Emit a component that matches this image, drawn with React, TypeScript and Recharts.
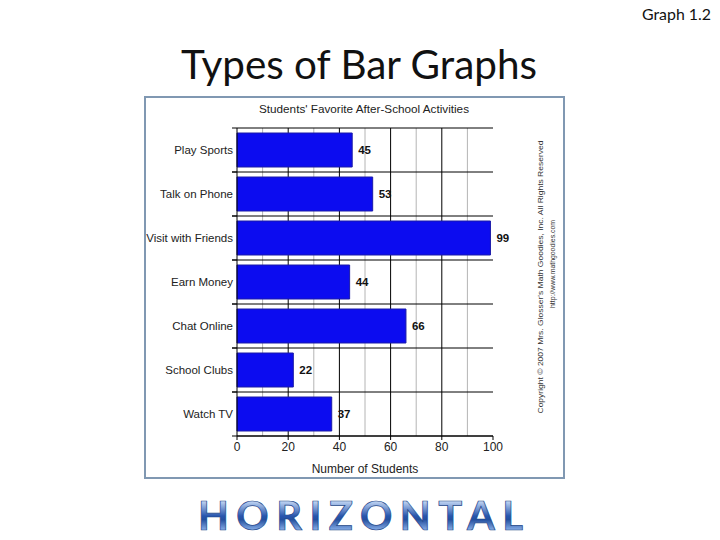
import React from "react";
import { BarChart, Bar, XAxis, YAxis, CartesianGrid, LabelList } from "recharts";

const categories = [
  "Play Sports",
  "Talk on Phone",
  "Visit with Friends",
  "Earn Money",
  "Chat Online",
  "School Clubs",
  "Watch TV",
];
const students = [45, 53, 99, 44, 66, 22, 37];
const xDomain = [0, 100];
const xTicks = [0, 20, 40, 60, 80, 100];
const majorGrid = [20, 40, 60, 80];
const minorGrid = [10, 30, 50, 70, 90];

const data = categories.map((c, i) => ({ activity: c, students: students[i] }));

const ARIAL = "'Liberation Sans', Arial, sans-serif";
const CAL = "Lato, 'Open Sans', sans-serif";

const xCoords = (vals: number[]) => (p: any) => {
  const s = p && p.xAxis && p.xAxis.scale;
  if (typeof s === "function") return vals.map((v) => s(v));
  const o = p.offset;
  return vals.map((v) => o.left + ((v - xDomain[0]) / (xDomain[1] - xDomain[0])) * o.width);
};

const bandEdges = (p: any) => {
  const s = p && p.yAxis && p.yAxis.scale;
  if (typeof s === "function" && typeof s.bandwidth === "function") {
    const pts = categories.map((c) => s(c));
    pts.push(pts[pts.length - 1] + s.bandwidth());
    return pts;
  }
  const o = p.offset;
  const n = categories.length;
  return [...categories.map((_, i) => o.top + (i * o.height) / n), o.top + o.height];
};

const CatTick = (props: any) => {
  const { x, y, payload } = props;
  const half = payload && payload.offset ? payload.offset : 22;
  return (
    <g>
      <line x1={x - 1} x2={x + 4} y1={y - half} y2={y - half} stroke="#000" />
      <line x1={x - 1} x2={x + 4} y1={y + half} y2={y + half} stroke="#000" />
      <text
        x={x}
        y={y}
        textAnchor="end"
        dominantBaseline="central"
        fill="#222"
        fontSize={11.5}
        fontFamily={ARIAL}
      >
        {payload.value}
      </text>
    </g>
  );
};

export default function App() {
  return (
    <div style={{ position: "absolute", left: 0, top: 0, width: 720, height: 540, background: "#fff" }}>
      <div
        style={{
          position: "absolute",
          left: 144,
          top: 96,
          width: 421,
          height: 383,
          border: "2px solid #8098b2",
          boxSizing: "border-box",
          background: "#fff",
        }}
      >
        <BarChart
          layout="vertical"
          width={417}
          height={379}
          data={data}
          margin={{ top: 30, right: 70, bottom: 0, left: 0 }}
        >
          <XAxis
            xAxisId="main"
            type="number"
            domain={xDomain}
            ticks={xTicks}
            height={41}
            tickSize={4}
            stroke="#000"
            tick={{ fill: "#222", fontSize: 12, fontFamily: ARIAL }}
            label={{
              value: "Number of Students",
              position: "insideBottom",
              offset: 4,
              fill: "#222",
              fontSize: 12,
              fontFamily: ARIAL,
            }}
          />
          <YAxis
            yAxisId="cat"
            type="category"
            dataKey="activity"
            width={91}
            tickLine={false}
            tickSize={0}
            tickMargin={4}
            stroke="#000"
            tick={<CatTick />}
          />
          <CartesianGrid
            xAxisId="main"
            yAxisId="cat"
            horizontal={false}
            stroke="#b4b4b4"
            verticalCoordinatesGenerator={xCoords(minorGrid)}
          />
          <CartesianGrid
            xAxisId="main"
            yAxisId="cat"
            stroke="#000"
            verticalCoordinatesGenerator={xCoords(majorGrid)}
            horizontalCoordinatesGenerator={bandEdges}
          />
          <Bar
            xAxisId="main"
            yAxisId="cat"
            dataKey="students"
            fill="#0c0cf0"
            stroke="#1a1aa8"
            strokeWidth={1}
            barSize={34}
            isAnimationActive={false}
          >
            <LabelList
              dataKey="students"
              position="right"
              offset={6}
              fill="#111"
              fontSize={11.5}
              fontWeight="bold"
              fontFamily={ARIAL}
            />
          </Bar>
        </BarChart>
      </div>
      <svg
        width={720}
        height={540}
        style={{ position: "absolute", left: 0, top: 0, pointerEvents: "none" }}
      >
        <defs>
          <linearGradient id="hg" gradientUnits="userSpaceOnUse" x1="0" y1="501" x2="0" y2="531">
            <stop offset="0" stopColor="#c4d8f5" />
            <stop offset="0.5" stopColor="#2856ae" />
            <stop offset="0.62" stopColor="#24509f" />
            <stop offset="1" stopColor="#8fb5ee" />
          </linearGradient>
        </defs>
        <text x={711} y={20} textAnchor="end" fontFamily={CAL} fontSize={16} fill="#111" textLength={69} lengthAdjust="spacingAndGlyphs">
          Graph 1.2
        </text>
        <text x={181} y={79} fontFamily={CAL} fontSize={40} fill="#111" textLength={356} lengthAdjust="spacingAndGlyphs">
          Types of Bar Graphs
        </text>
        <text
          x={364}
          y={109}
          textAnchor="middle"
          dominantBaseline="central"
          fontFamily={ARIAL}
          fontSize={11}
          fill="#222"
          textLength={210}
          lengthAdjust="spacingAndGlyphs"
        >
          Students' Favorite After-School Activities
        </text>
        <text
          x={540}
          y={277}
          transform="rotate(-90 540 277)"
          textAnchor="middle"
          dominantBaseline="central"
          fontFamily={ARIAL}
          fontSize={8}
          fill="#333"
          textLength={273}
          lengthAdjust="spacingAndGlyphs"
        >
          Copyright © 2007 Mrs. Glosser's Math Goodies, Inc. All Rights Reserved
        </text>
        <text
          x={552}
          y={264}
          transform="rotate(-90 552 264)"
          textAnchor="middle"
          dominantBaseline="central"
          fontFamily={ARIAL}
          fontSize={8}
          fill="#333"
          textLength={88}
          lengthAdjust="spacingAndGlyphs"
        >
          http://www.mathgoodies.com
        </text>
        <text
          x={198}
          y={530}
          fontFamily={CAL}
          fontWeight="bold"
          fontSize={40}
          fill="url(#hg)"
          stroke="#24478a"
          strokeWidth={0.7}
          textLength={325}
          lengthAdjust="spacing"
        >
          HORIZONTAL
        </text>
      </svg>
    </div>
  );
}
